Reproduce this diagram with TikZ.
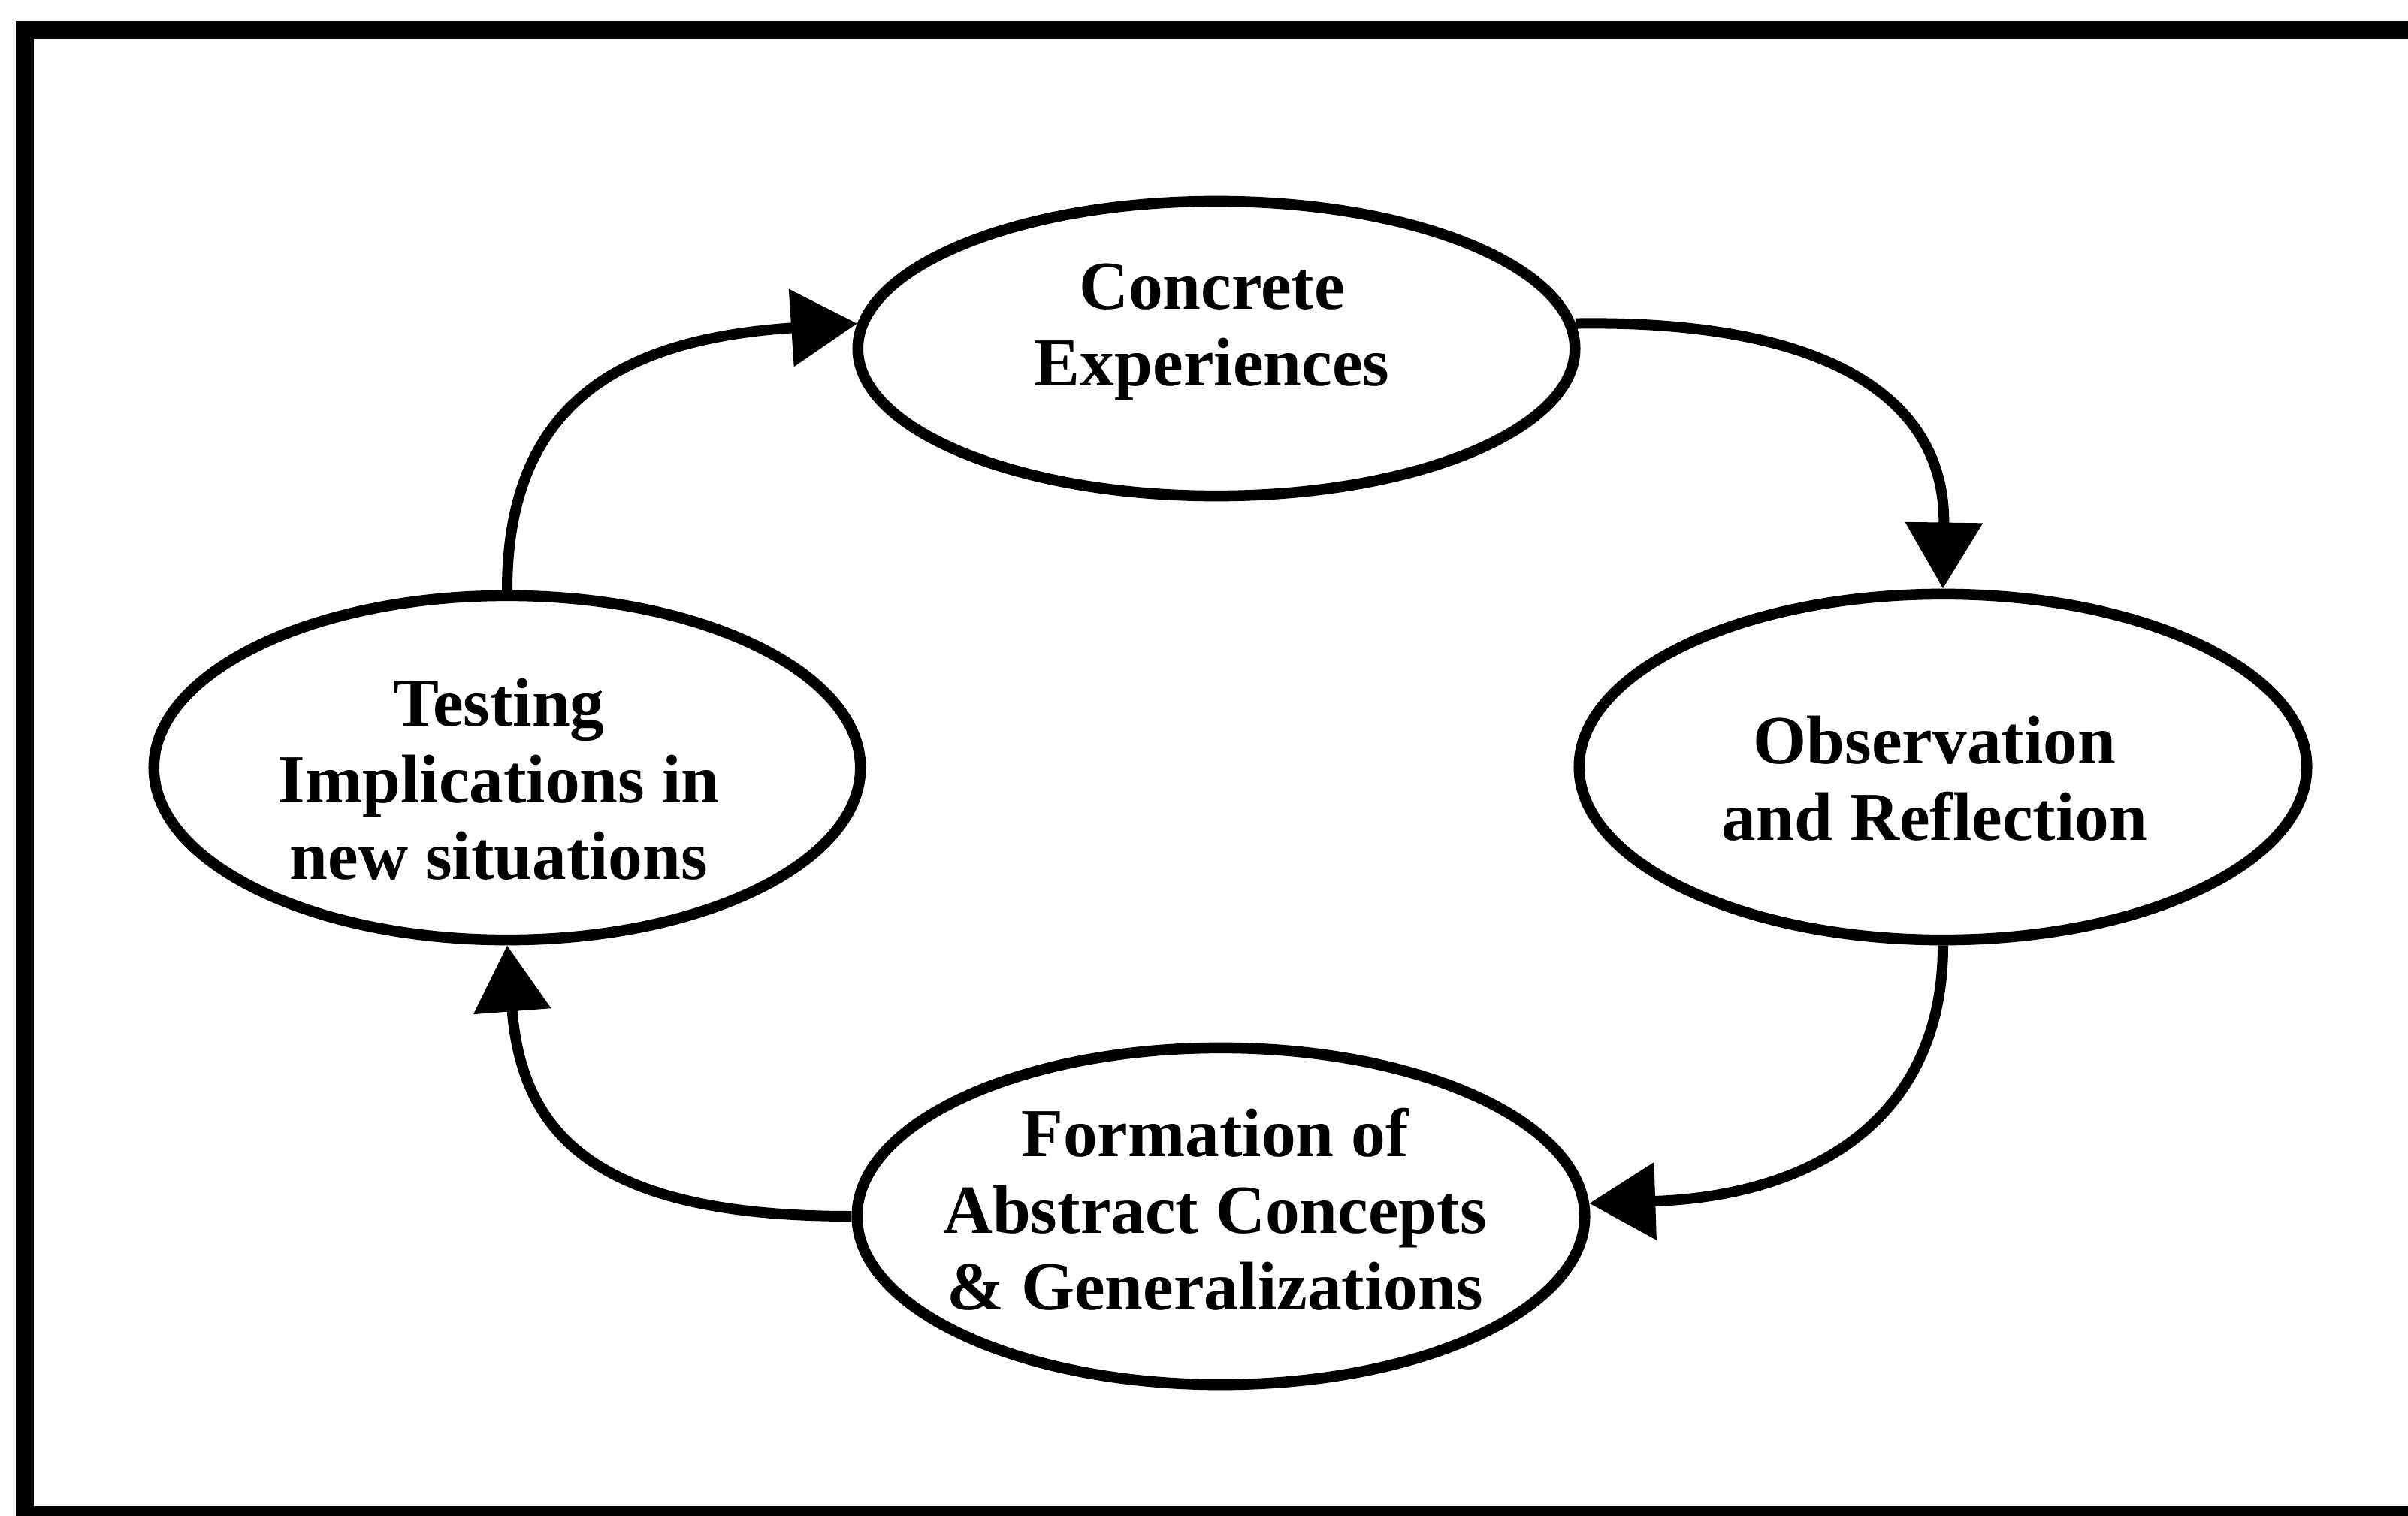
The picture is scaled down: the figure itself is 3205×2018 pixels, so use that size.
\documentclass[tikz,border=0pt]{standalone}
\usepackage{fontspec}
\setmainfont{Liberation Serif}
\usetikzlibrary{shapes.geometric,arrows.meta}
\begin{document}
\begin{tikzpicture}[x=0.01cm,y=-0.01cm,
  stage/.style={draw, ellipse, line width=0.145cm, inner sep=0pt},
  stagetext/.style={anchor=north, align=center, inner sep=0pt,
    font=\fontsize{26}{29}\selectfont\bfseries},
  conn/.style={line width=0.14cm, -{Triangle[length=0.88cm,width=1.0cm]}},
  outerbox/.style={line width=0.23cm}]
\useasboundingbox (0,0) rectangle (3205,2018);
% surrounding frame
\draw[outerbox] (33,40) rectangle (3228,2016);

% the four stages of the cycle
\node[stage, minimum width=9.54cm, minimum height=3.92cm] (ce) at (1619,464) {};
\node[stage, minimum width=9.68cm, minimum height=4.60cm] (or) at (2586,1021) {};
\node[stage, minimum width=9.68cm, minimum height=4.48cm] (fa) at (1625,1619) {};
\node[stage, minimum width=9.40cm, minimum height=4.58cm] (ti) at (675,1022) {};

\node[stagetext] (ceText) at (1613,350) {Concrete\\Experiences};
\node[stagetext] (orText) at (2575,952) {Observation\\and Reflection};
\node[stagetext] (faText) at (1617,1474) {Formation of\\Abstract Concepts\\\& Generalizations};
\node[stagetext] (tiText) at (664,902) {Testing\\Implications in\\new situations};

% cycle arrows
\draw[conn] (ce.4) .. controls +(315,-5) and +(4,-265) .. (or.north);
\draw[conn] (or.south) .. controls +(0,230) and +(300,-10) .. (fa.2);
\draw[conn] (fa.west) .. controls +(-330,0) and +(20,260) .. (ti.south);
\draw[conn] (ti.north) .. controls +(0,-260) and +(-300,20) .. (ce.176);
\end{tikzpicture}
\end{document}
